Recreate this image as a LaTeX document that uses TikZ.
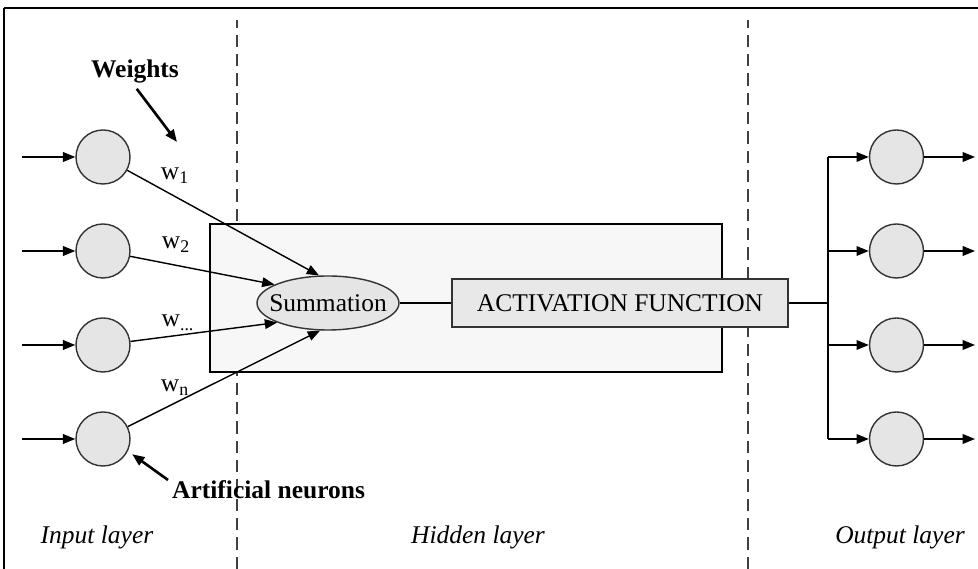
\documentclass[tikz,border=0pt]{standalone}
\usepackage{fontspec}
\setmainfont{Liberation Serif}
\usetikzlibrary{arrows.meta,shapes.geometric}

\tikzset{
  neuron/.style={circle, draw=black!80, line width=0.8pt, fill=black!10,
    minimum size=1.08cm, inner sep=0pt},
  wire/.style={line width=0.8pt},
  pointer/.style={line width=1.5pt, ->},
  layerline/.style={black!75, line width=0.8pt, dash pattern=on 7pt off 4pt},
  lbl/.style={font=\fontsize{14.5}{17}\selectfont},
  boldlbl/.style={font=\fontsize{14.5}{17}\selectfont\bfseries},
  itlbl/.style={font=\fontsize{14.5}{17}\selectfont\itshape}
}

\begin{document}
\begin{tikzpicture}[>={Triangle[length=7pt,width=5.5pt]}]
    \useasboundingbox (0,0) rectangle (19.56,11.38);

    % frame
    \draw[line width=0.6pt] (0.08,0) -- (0.08,11.22);
    \draw[line width=1.4pt] (0.08,11.22) -- (19.56,11.22);

    % layer borders
    \draw[layerline] (4.74,0) -- (4.74,10.98);
    \draw[layerline] (14.96,0) -- (14.96,10.98);

    % hidden layer
    \node[draw, line width=1.6pt, fill=black!3, minimum width=10.24cm,
      minimum height=2.96cm] (hidden) at (9.32,5.42) {};
    \node[ellipse, draw=black!80, line width=0.8pt, fill=black!10,
      minimum width=2.84cm, minimum height=1.08cm, inner sep=0pt, lbl]
      (sum) at (6.56,5.32) {\makebox[0pt]{Summation}};
    \node[draw=black!80, line width=0.8pt, fill=black!9, minimum width=6.72cm,
      minimum height=0.96cm, inner sep=0pt, lbl]
      (act) at (12.4,5.32) {ACTIVATION FUNCTION};
    \draw[wire] (sum) -- (act);
    \coordinate (bus) at (16.56,5.32);
    \draw[wire] (act) -- (bus);

    % input and output neurons
    \foreach \i/\y in {1/8.24, 2/6.36, 3/4.48, 4/2.60} {
        \node[neuron] (in\i) at (2.06,\y) {};
        \coordinate (src\i) at (0.44,\y);
        \draw[wire, ->] (src\i) -- (in\i);

        \node[neuron] (out\i) at (17.93,\y) {};
        \coordinate (tap\i) at (16.56,\y);
        \coordinate (end\i) at (19.5,\y);
        \draw[wire, ->] (tap\i) -- (out\i);
        \draw[wire, ->] (out\i) -- (end\i);
    }
    \draw[wire] (tap1) -- (tap4);

    % weights
    \draw[wire, ->] (in1) -- (sum.108);
    \draw[wire, ->] (in2) -- (sum.161);
    \draw[wire, ->] (in3) -- (sum.201);
    \draw[wire, ->] (in4) -- (sum.254);
    \node[lbl] (w1) at (3.5,7.86) {w\textsubscript{1}};
    \node[lbl] (w2) at (3.52,6.48) {w\textsubscript{2}};
    \node[lbl] (w3) at (3.56,4.92) {w\textsubscript{...}};
    \node[lbl] (wn) at (3.5,3.62) {w\textsubscript{n}};

    % labels
    \node[boldlbl] (weights) at (2.7,9.96) {Weights};
    \coordinate (wtip) at (3.54,8.54);
    \draw[pointer] ([xshift=1pt]weights.south) -- (wtip);
    \node[boldlbl, anchor=west] (neurons) at (3.32,1.58) {Artificial neurons};
    \draw[pointer, shorten >=3pt] ([shift={(0.04,0.2)}]neurons.west) -- (in4.-26);

    \node[itlbl] (inlayer) at (1.94,0.64) {Input layer};
    \node[itlbl] (hidlayer) at (9.56,0.64) {Hidden layer};
    \node[itlbl] (outlayer) at (18.0,0.64) {Output layer};
\end{tikzpicture}
\end{document}
